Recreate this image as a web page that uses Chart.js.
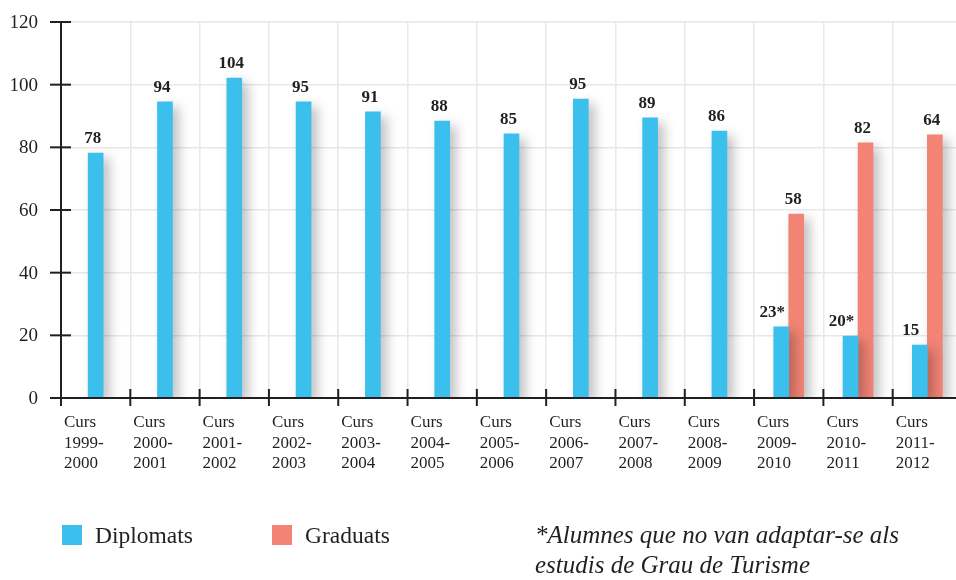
<!DOCTYPE html>
<html>
<head>
<meta charset="utf-8">
<script src="https://cdn.jsdelivr.net/npm/chart.js@4"></script>
<style>
  html, body { margin:0; padding:0; background:#fff; overflow:hidden; }
  #wrap { position:relative; width:972px; height:580px; }
</style>
</head>
<body>
<div id="wrap"><canvas id="graf" width="972" height="580"></canvas></div>
<script>
var cursos = ['1999-2000','2000-2001','2001-2002','2002-2003','2003-2004','2004-2005','2005-2006',
              '2006-2007','2007-2008','2008-2009','2009-2010','2010-2011','2011-2012'];
var diplomats = [78.2, 94.5, 102.1, 94.5, 91.3, 88.4, 84.3, 95.4, 89.4, 85.2, 22.7, 19.8, 16.9];
var graduats = [null, null, null, null, null, null, null, null, null, null, 58.7, 81.4, 84];
var diplomatsText = ['78','94','104','95','91','88','85','95','89','86','23*','20*','15'];
var graduatsText = [null, null, null, null, null, null, null, null, null, null, '58','82','64'];
var yTicks = [0, 20, 40, 60, 80, 100, 120];
var nota = ['*Alumnes que no van adaptar-se als', 'estudis de Grau de Turisme'];

var blau = '#3bbfed';
var vermell = '#f38475';
var serif = '"Liberation Serif", "DejaVu Serif", serif';

// ombra suau sota les barres
var ombra = {
    id:'ombra',
    beforeDatasetsDraw:function(chart){
        var ctx = chart.ctx;
        ctx.save();
        ctx.shadowColor = 'rgba(0,0,0,0.25)';
        ctx.shadowBlur = 12;
        ctx.shadowOffsetX = 6;
        ctx.shadowOffsetY = 5;
    },
    afterDatasetsDraw:function(chart){
        chart.ctx.restore();
    }
};

var eixos = {
    id:'eixos',
    afterDraw:function(chart){
        var ctx = chart.ctx;
        var a = chart.chartArea;
        var x = chart.scales.x, y = chart.scales.y;
        ctx.save();
        ctx.strokeStyle = '#231f20';
        ctx.lineWidth = 2;
        // eix Y
        ctx.beginPath();
        ctx.moveTo(a.left, y.getPixelForValue(120) - 1);
        ctx.lineTo(a.left, a.bottom + 8);
        ctx.stroke();
        // eix X
        ctx.beginPath();
        ctx.moveTo(a.left - 9, a.bottom);
        ctx.lineTo(a.right, a.bottom);
        ctx.stroke();
        // marques Y
        ctx.fillStyle = '#231f20';
        ctx.font = '19px ' + serif;
        ctx.textAlign = 'right';
        ctx.textBaseline = 'middle';
        yTicks.forEach(function(v){
            var py = y.getPixelForValue(v);
            ctx.beginPath();
            ctx.moveTo(a.left - 11, py);
            ctx.lineTo(a.left + 10, py);
            ctx.stroke();
            ctx.fillText(String(v), a.left - 23, py + 1);
        });
        // marques X i etiquetes
        var w = x.getPixelForValue(1) - x.getPixelForValue(0);
        ctx.font = '17px ' + serif;
        ctx.textAlign = 'left';
        ctx.textBaseline = 'alphabetic';
        cursos.forEach(function(c, i){
            var px = x.getPixelForValue(i) - w / 2;
            ctx.beginPath();
            ctx.moveTo(px, a.bottom - 9);
            ctx.lineTo(px, a.bottom + 8);
            ctx.stroke();
            var parts = c.split('-');
            ctx.fillText('Curs', px + 3, a.bottom + 29);
            ctx.fillText(parts[0] + '-', px + 3, a.bottom + 50);
            ctx.fillText(parts[1], px + 3, a.bottom + 70);
        });
        // valors sobre les barres
        ctx.font = 'bold 17px ' + serif;
        ctx.textAlign = 'center';
        var textos = [diplomatsText, graduatsText];
        [0, 1].forEach(function(d){
            chart.getDatasetMeta(d).data.forEach(function(bar, i){
                var t = textos[d][i];
                if(!t) return;
                var dx = -3;
                if(d == 0 && graduats[i] != null) dx = -9;
                ctx.fillText(t, bar.x + dx, bar.y - 10);
            });
        });
        // llegenda
        ctx.font = '23.5px ' + serif;
        ctx.textAlign = 'left';
        ctx.fillStyle = blau;
        ctx.fillRect(62, 525, 20, 20);
        ctx.fillStyle = vermell;
        ctx.fillRect(272, 525, 20, 20);
        ctx.fillStyle = '#231f20';
        ctx.fillText(chart.data.datasets[0].label, 95, 543);
        ctx.fillText(chart.data.datasets[1].label, 305, 543);
        // nota
        ctx.font = 'italic 25px ' + serif;
        ctx.fillText(nota[0], 535, 543);
        ctx.fillText(nota[1], 535, 573);
        ctx.restore();
    }
};

$ = function(s){ return document.querySelector(s); };

var graf = new Chart($('#graf'), {
    type:'bar',
    data:{
        labels:cursos,
        datasets:[{
            label:'Diplomats',
            data:diplomats,
            backgroundColor:blau,
            barThickness:15,
            skipNull:true
        },{
            label:'Graduats',
            data:graduats,
            backgroundColor:vermell,
            barThickness:15,
            skipNull:true
        }]
    },
    options:{
        responsive:false,
        animation:false,
        devicePixelRatio:1,
        layout:{ padding:{ left:61, top:22, right:10, bottom:182 } },
        plugins:{ legend:{ display:false }, tooltip:{ enabled:false } },
        scales:{
            x:{
                grid:{ color:'#e8e8e8', lineWidth:1.5, drawTicks:false, offset:true },
                border:{ display:false },
                ticks:{ display:false }
            },
            y:{
                min:0, max:120,
                ticks:{ display:false, stepSize:20 },
                grid:{ color:'#e8e8e8', lineWidth:1.5, drawTicks:false },
                border:{ display:false }
            }
        }
    },
    plugins:[ombra, eixos]
});
</script>
</body>
</html>
